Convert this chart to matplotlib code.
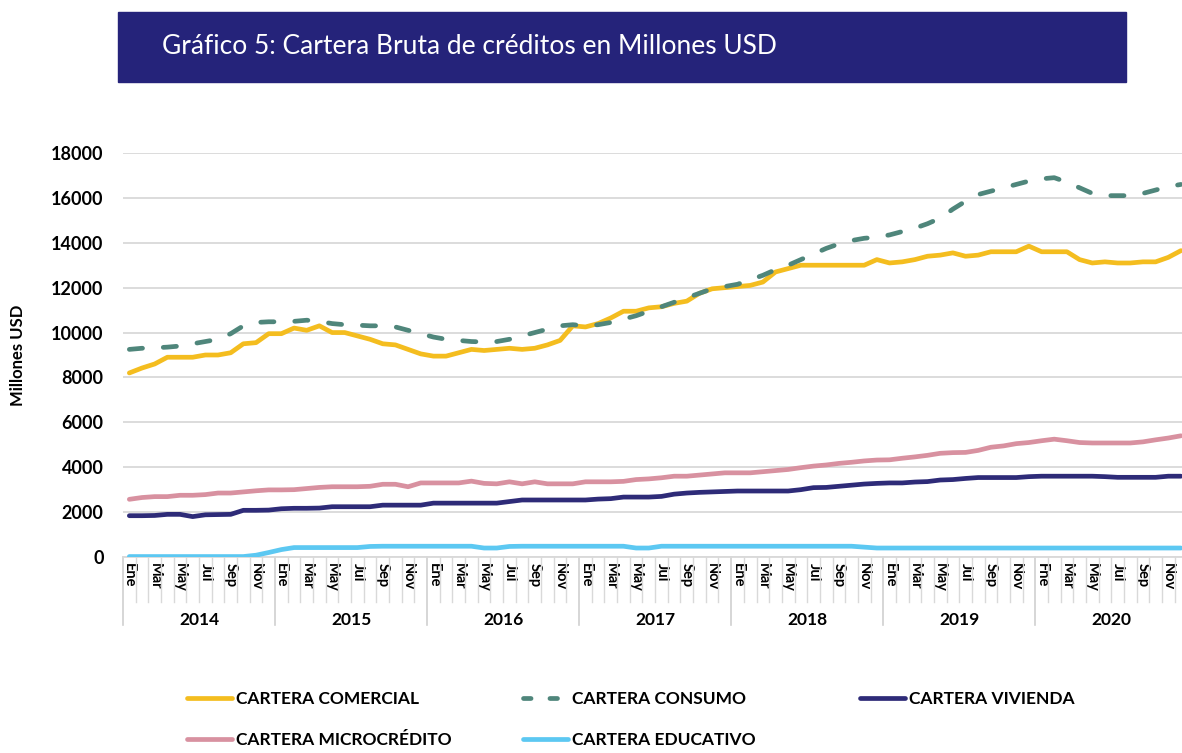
import matplotlib
matplotlib.use("Agg")
import matplotlib.pyplot as plt
from matplotlib.patches import Rectangle
from matplotlib.lines import Line2D

plt.rcParams["font.family"] = ["Lato", "DejaVu Sans"]

TITLE = "Gráfico 5: Cartera Bruta de créditos en Millones USD"
YEARS = ["2014", "2015", "2016", "2017", "2018", "2019", "2020"]
MONTHS = ["Ene", "Feb", "Mar", "Abr", "May", "Jun",
          "Jul", "Ago", "Sep", "Oct", "Nov", "Dic"]
# 2020 starts with the truncated "Fne" label in the original
MONTH_LABELS_2020 = {"Ene": "Fne"}

# Millones USD, monthly Ene-2014 .. Dic-2020
comercial = [
    8200, 8420, 8600, 8900, 8900, 8900, 9000, 9000, 9100, 9500, 9550, 9950,
    9950, 10200, 10100, 10300, 10000, 10000, 9850, 9700, 9500, 9450, 9250, 9050,
    8950, 8950, 9100, 9250, 9200, 9250, 9300, 9250, 9300, 9450, 9650, 10300,
    10250, 10400, 10650, 10950, 10950, 11100, 11150, 11300, 11400, 11750, 11950, 12000,
    12050, 12100, 12250, 12700, 12850, 13000, 13000, 13000, 13000, 13000, 13000, 13250,
    13100, 13150, 13250, 13400, 13450, 13550, 13400, 13450, 13600, 13600, 13600, 13850,
    13600, 13600, 13600, 13250, 13100, 13150, 13100, 13100, 13150, 13150, 13350, 13650,
]
consumo = [
    9250, 9300, 9320, 9350, 9400, 9500, 9600, 9700, 9950, 10300, 10450, 10480,
    10480, 10500, 10550, 10500, 10400, 10350, 10330, 10300, 10300, 10250, 10100, 9950,
    9800, 9700, 9650, 9600, 9580, 9600, 9700, 9850, 10000, 10150, 10300, 10350,
    10300, 10350, 10450, 10600, 10750, 10950, 11150, 11350, 11550, 11750, 11950, 12050,
    12150, 12350, 12550, 12800, 13000, 13250, 13500, 13750, 13950, 14100, 14200, 14250,
    14350, 14500, 14650, 14850, 15100, 15500, 15850, 16150, 16300, 16450, 16600, 16750,
    16850, 16900, 16700, 16450, 16200, 16100, 16100, 16100, 16200, 16350, 16500, 16600,
]
vivienda = [
    1840, 1840, 1850, 1900, 1900, 1800, 1880, 1890, 1900, 2080, 2080, 2090,
    2150, 2170, 2170, 2180, 2240, 2240, 2240, 2240, 2310, 2310, 2310, 2310,
    2400, 2400, 2400, 2400, 2400, 2400, 2470, 2540, 2540, 2540, 2540, 2540,
    2540, 2580, 2600, 2670, 2670, 2670, 2700, 2800, 2850, 2880, 2900, 2920,
    2940, 2940, 2940, 2940, 2940, 3000, 3090, 3100, 3150, 3200, 3250, 3280,
    3300, 3300, 3340, 3360, 3430, 3450, 3500, 3540, 3540, 3540, 3540, 3580,
    3600, 3600, 3600, 3600, 3600, 3580, 3550, 3550, 3550, 3550, 3600, 3600,
]
microcredito = [
    2570, 2650, 2690, 2690, 2750, 2750, 2780, 2850, 2850, 2900, 2950, 2990,
    2990, 3000, 3050, 3100, 3130, 3130, 3130, 3150, 3240, 3240, 3130, 3300,
    3300, 3300, 3300, 3380, 3280, 3260, 3350, 3260, 3350, 3260, 3260, 3260,
    3350, 3350, 3350, 3370, 3450, 3480, 3530, 3600, 3600, 3650, 3700, 3750,
    3750, 3750, 3800, 3850, 3900, 3980, 4050, 4100, 4170, 4220, 4280, 4320,
    4330, 4400, 4460, 4530, 4620, 4650, 4660, 4750, 4890, 4950, 5050, 5100,
    5180, 5250, 5180, 5100, 5080, 5080, 5080, 5080, 5130, 5220, 5300, 5400,
]
educativo = [
    20, 20, 20, 20, 20, 20, 20, 20, 20, 20, 80, 200,
    330, 420, 420, 420, 420, 420, 420, 470, 480, 480, 480, 480,
    480, 480, 480, 480, 400, 400, 470, 480, 480, 480, 480, 480,
    480, 480, 480, 480, 400, 400, 480, 480, 480, 480, 480, 480,
    480, 480, 480, 480, 480, 480, 480, 480, 480, 480, 440, 400,
    400, 400, 400, 400, 400, 400, 400, 400, 400, 400, 400, 400,
    400, 400, 400, 400, 400, 400, 400, 400, 400, 400, 400, 400,
]

series = [
    ("CARTERA COMERCIAL", comercial, "#F4BD1F", "-"),
    ("CARTERA CONSUMO", consumo, "#4F867B", "--"),
    ("CARTERA VIVIENDA", vivienda, "#2E2B78", "-"),
    ("CARTERA MICROCRÉDITO", microcredito, "#D891A0", "-"),
    ("CARTERA EDUCATIVO", educativo, "#5CC8F2", "-"),
]

W, H = 1182, 753
fig = plt.figure(figsize=(W / 100, H / 100), dpi=100)

# title banner
fig.patches.append(Rectangle((118 / W, 1 - 82 / H), (1126 - 118) / W, 70 / H,
                             transform=fig.transFigure, color="#25237A", zorder=0))
fig.text(162 / W, 1 - 47 / H, TITLE, color="white", fontsize=19, va="center")

n_months = len(comercial)
x = list(range(n_months))
ax = fig.add_axes([123 / W, 1 - 557 / H, 12.67 * n_months / W, 404 / H])

draw_order = [0, 2, 3, 4, 1]
for i in draw_order:
    name, vals, col, ls = series[i]
    ln, = ax.plot(x, vals, color=col, lw=3.4, ls=ls, solid_capstyle="round",
                  dash_capstyle="round", zorder=3)
    if ls == "--":
        ln.set_dashes((2.8, 4.4))

ax.set_xlim(-0.5, n_months - 0.5)
ax.set_ylim(0, 18000)
ax.set_yticks(range(0, 18001, 2000))
ax.yaxis.grid(True, color="#D9D9D9", lw=1.3)
ax.set_axisbelow(True)
for s in ["left", "right", "top"]:
    ax.spines[s].set_visible(False)
ax.spines["bottom"].set_color("#D9D9D9")
ax.spines["bottom"].set_linewidth(1.3)
ax.tick_params(axis="y", length=0, pad=14, labelsize=13)
for lab in ax.get_yticklabels():
    lab.set_fontweight("bold")

# month labels every other month
tick_pos, tick_lab = [], []
for yi, yr in enumerate(YEARS):
    for mi in range(0, 12, 2):
        m = MONTHS[mi]
        if yr == "2020":
            m = MONTH_LABELS_2020.get(m, m)
        tick_pos.append(yi * 12 + mi)
        tick_lab.append(m)
ax.set_xticks(tick_pos)
ax.set_xticklabels(tick_lab, rotation=270, fontsize=10.5, fontweight="bold",
                   va="top", ha="center")
ax.tick_params(axis="x", length=0, pad=4)

# category separators and year separators
xt = ax.get_xaxis_transform()
for k in range(n_months + 1):
    pos = k - 0.5
    if k % 12 == 0:
        ax.plot([pos, pos], [0, -68 / 404], transform=xt, color="#D0D0D0",
                lw=1.2, clip_on=False)
    else:
        ax.plot([pos, pos], [0, -45 / 404], transform=xt, color="#D9D9D9",
                lw=1.0, clip_on=False)
for yi, yr in enumerate(YEARS):
    ax.text(yi * 12 + 5.5, -63 / 404, yr, transform=xt, ha="center", va="center",
            fontsize=12.5, fontweight="bold")

fig.text(18 / W, 1 - 355 / H, "Millones USD", rotation=90, ha="center",
         va="center", fontsize=12, fontweight="bold")

# legend, three columns placed as in the original
cols = [([0, 3], 187), ([1, 4], 523), ([2], 860)]
for idx, xpx in cols:
    handles = []
    for i in idx:
        name, vals, col, ls = series[i]
        h = Line2D([], [], color=col, lw=3.4, ls=ls, solid_capstyle="round",
                   dash_capstyle="round")
        if ls == "--":
            h.set_dashes((1.6, 4.0))
        handles.append(h)
    leg = fig.legend(handles, [series[i][0] for i in idx], loc="upper left",
                     bbox_to_anchor=(xpx / W, 1 - 691 / H), frameon=False,
                     fontsize=12.5, handlelength=2.6, handletextpad=0.25,
                     borderpad=0, borderaxespad=0, labelspacing=1.45)
    for t in leg.get_texts():
        t.set_fontweight("bold")

fig.savefig("out.png", dpi=100)
